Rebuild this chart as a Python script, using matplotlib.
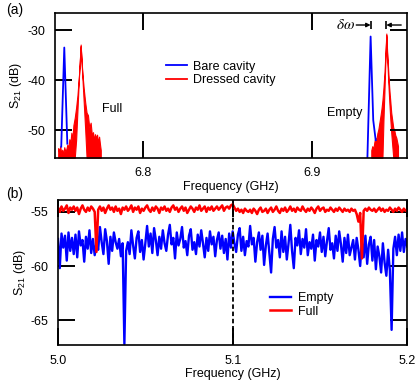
import numpy as np
import matplotlib
matplotlib.use('Agg')
import matplotlib.pyplot as plt

plt.rcParams['font.family'] = ['Liberation Sans', 'DejaVu Sans']
plt.rcParams['font.size'] = 9
plt.rcParams['mathtext.fontset'] = 'custom'
plt.rcParams['mathtext.rm'] = 'Liberation Sans'
plt.rcParams['mathtext.it'] = 'Liberation Sans:italic'
plt.rcParams['axes.unicode_minus'] = False

# ---- panel (a): transmission peaks (GHz, dB) ----
f_bare_full = [6.7518, 6.7536, 6.7554]
s_bare_full = [-53.3, -33.5, -52.7]

f_bare_empty = [6.9330, 6.9349, 6.93645, 6.9379]
s_bare_empty = [-55.5, -31.3, -48.0, -52.0]

f_dress_full = [6.7500, 6.7506, 6.7512, 6.7518, 6.7524, 6.7530, 6.7536, 6.7542,
                6.7548, 6.7554, 6.7560, 6.7566, 6.7572, 6.7578, 6.7584, 6.7590,
                6.7598, 6.7606, 6.7614, 6.7622, 6.7628, 6.7633, 6.7638, 6.7644,
                6.7652, 6.7660, 6.7668, 6.7676, 6.7684, 6.7692, 6.7700, 6.7706,
                6.7712, 6.7718, 6.7724, 6.7730, 6.7736, 6.7742, 6.7748, 6.7752]
hi_dress_full = [-53.6, -54.4, -53.2, -54.6, -53.9, -54.8, -53.4, -54.2,
                 -53.8, -52.9, -53.6, -51.8, -52.6, -50.5, -51.9, -49.0,
                 -47.5, -45.5, -43.0, -39.5, -36.5, -32.9, -36.0, -39.0,
                 -42.0, -44.5, -46.5, -47.0, -49.5, -48.5, -51.2, -50.4,
                 -52.0, -50.8, -51.6, -50.9, -52.5, -51.3, -53.0, -54.0]
lo_dress_full = [-55.5, -55.5, -55.5, -55.5, -55.5, -55.5, -55.5, -55.5,
                 -55.5, -55.5, -55.5, -55.5, -55.5, -55.5, -55.5, -55.5,
                 -55.5, -52.0, -46.0, -40.0, -36.0, -33.2, -36.0, -40.0,
                 -45.0, -50.0, -55.5, -55.5, -55.5, -55.5, -55.5, -55.5,
                 -55.5, -55.5, -55.5, -55.5, -55.5, -55.5, -55.5, -55.5]

f_dress_empty = [6.9353, 6.9359, 6.9365, 6.9371, 6.9377, 6.9383, 6.9389, 6.9395,
                 6.9401, 6.9407, 6.9413, 6.9419, 6.9425, 6.9431, 6.9437, 6.9442,
                 6.9447, 6.9453, 6.9459, 6.9465, 6.9471, 6.9477, 6.9483, 6.9489,
                 6.9495, 6.9501, 6.9507, 6.9511]
hi_dress_empty = [-54.0, -53.2, -53.8, -52.4, -51.5, -52.0, -50.6, -49.8,
                  -48.5, -47.2, -45.8, -44.0, -41.5, -38.5, -34.5, -30.7,
                  -34.5, -38.0, -41.5, -44.0, -46.5, -48.0, -49.5, -50.0,
                  -51.0, -51.5, -52.5, -53.2]
lo_dress_empty = [-55.5, -55.5, -55.5, -55.5, -55.5, -55.5, -55.5, -55.5,
                  -55.5, -55.5, -55.5, -55.5, -48.0, -42.0, -35.5, -31.0,
                  -35.5, -40.0, -44.0, -47.5, -50.5, -53.0, -55.5, -55.5,
                  -55.5, -55.5, -55.5, -55.5]

# ---- panel (b): broadband scan, 1 MHz steps from 5.0 to 5.2 GHz ----
f_scan = np.linspace(5.0, 5.2, 201)
s_empty = [
    -57.5, -60.2, -57.0, -58.3, -57.2, -59.5, -56.9, -58.6, -57.4, -58.9,
    -57.1, -59.2, -56.8, -58.1, -57.6, -59.6, -57.3, -58.4, -56.7, -58.8,
    -57.5, -59.0, -57.9, -58.5, -56.4, -57.8, -58.9, -56.6, -57.7, -59.8,
    -57.3, -58.6, -56.9, -57.8, -58.4, -57.5, -59.1, -57.9, -67.2, -58.6,
    -57.8, -58.9, -56.7, -58.1, -59.3, -57.4, -56.8, -58.7, -57.6, -59.4,
    -57.9, -56.3, -58.2, -57.0, -58.8, -56.5, -57.6, -59.0, -57.3, -58.4,
    -56.7, -57.9, -58.6, -57.1, -56.2, -58.0, -57.4, -59.3, -56.9, -58.1,
    -57.5, -56.4, -58.3, -57.7, -59.0, -57.2, -56.6, -58.5, -57.8, -58.9,
    -57.1, -58.2, -56.7, -57.9, -59.2, -57.4, -58.6, -56.8, -58.0, -57.3,
    -59.1, -57.6, -56.9, -58.4, -57.2, -58.8, -57.5, -59.4, -57.0, -58.3,
    -56.8, -57.9, -58.7, -57.1, -56.5, -58.6, -57.3, -59.0, -57.7, -58.2,
    -56.3, -58.0, -57.4, -59.6, -57.8, -56.9, -58.5, -57.2, -59.9, -58.1,
    -57.0, -58.8, -60.6, -57.5, -56.4, -58.3, -57.6, -59.2, -56.8, -58.7,
    -57.3, -59.4, -57.9, -56.2, -58.6, -60.2, -57.4, -58.1, -56.7, -58.9,
    -57.5, -58.3, -56.6, -59.0, -57.8, -58.4, -57.1, -59.5, -57.6, -58.2,
    -56.9, -58.7, -57.3, -59.1, -57.7, -56.5, -58.5, -57.9, -59.3, -57.2,
    -58.6, -56.8, -58.0, -59.6, -57.4, -58.8, -57.1, -59.0, -58.3, -57.6,
    -59.4, -57.4, -58.5, -60.0, -57.6, -59.2, -57.2, -59.8, -58.0, -57.3,
    -59.5, -57.6, -60.3, -58.2, -59.1, -60.6, -57.9, -59.7, -60.9, -58.5,
    -60.4, -65.9, -58.4, -57.3, -59.0, -57.1, -58.6, -56.9, -58.7, -57.5,
    -58.2]
s_full = [
    -54.6, -55.0, -54.5, -54.9, -54.7, -54.4, -55.1, -54.6, -54.8, -54.5,
    -54.9, -54.6, -55.2, -54.7, -54.4, -54.8, -55.0, -54.6, -54.9, -54.5,
    -54.7, -55.0, -58.7, -54.8, -54.5, -54.9, -54.6, -55.1, -54.7, -54.4,
    -54.8, -54.6, -55.0, -54.5, -54.9, -54.7, -55.2, -54.6, -54.8, -54.5,
    -54.9, -54.7, -54.4, -55.0, -54.6, -54.8, -54.5, -55.1, -54.7, -54.9,
    -54.6, -54.4, -54.8, -55.0, -54.6, -54.9, -54.5, -54.7, -55.1, -54.6,
    -54.8, -54.5, -54.9, -54.7, -55.0, -54.6, -54.4, -54.8, -54.6, -55.0,
    -54.7, -54.5, -54.9, -54.6, -55.1, -54.8, -54.5, -54.7, -55.0, -54.6,
    -54.8, -54.4, -54.9, -54.7, -54.5, -55.0, -54.6, -54.8, -54.5, -54.9,
    -54.7, -54.5, -54.8, -54.6, -54.4, -54.9, -54.6, -54.5, -54.7, -54.4,
    -54.3, -54.6, -54.9, -54.7, -55.0, -54.8, -55.1, -54.7, -54.9, -55.0,
    -54.8, -55.1, -54.7, -54.9, -55.2, -54.8, -54.6, -55.0, -54.9, -54.7,
    -55.1, -54.8, -54.6, -55.0, -54.8, -54.5, -54.9, -55.1, -54.7, -54.9,
    -54.6, -55.0, -54.8, -54.5, -54.9, -54.7, -55.0, -54.6, -54.8, -54.9,
    -54.5, -54.8, -55.0, -54.7, -54.9, -54.6, -54.8, -55.1, -54.7, -54.5,
    -54.9, -54.7, -54.6, -55.0, -54.8, -54.9, -54.6, -54.8, -55.0, -54.7,
    -54.9, -54.6, -54.8, -55.0, -54.7, -54.9, -54.8, -55.0, -54.7, -54.9,
    -54.8, -55.2, -55.9, -55.1, -59.3, -54.9, -54.7, -54.9, -54.6, -54.8,
    -54.9, -54.7, -55.0, -54.8, -54.6, -54.9, -54.7, -55.0, -54.8, -54.9,
    -54.6, -54.8, -55.0, -54.7, -54.9, -54.6, -54.8, -55.0, -54.7, -54.9,
    -54.8]

blue = '#0000ff'
red = '#ff0000'


def style_axes(ax):
    for sp in ax.spines.values():
        sp.set_linewidth(1.2)
    ax.tick_params(direction='in', length=12.5, width=1.4, pad=7,
                   top=True, right=True, labelsize=9)
    ax.tick_params(axis='y', right=True)


fig = plt.figure(figsize=(4.15, 3.89), dpi=100)

# panel (a)
ax1 = fig.add_axes([0.1325, 0.5946, 0.8489, 0.3720])
ax1.fill_between(f_dress_full, lo_dress_full, hi_dress_full, color=red, lw=0.8)
ax1.fill_between(f_dress_empty, lo_dress_empty, hi_dress_empty, color=red, lw=0.8)
ax1.plot(f_bare_full, s_bare_full, color=blue, lw=1.3, label='Bare cavity')
ax1.plot(f_bare_empty, s_bare_empty, color=blue, lw=1.3)
ax1.plot([], [], color=red, lw=1.3, label='Dressed cavity')
ax1.set_xlim(6.7481, 6.9566)
ax1.set_ylim(-55.5, -26.6)
ax1.set_xticks([6.8, 6.9])
ax1.set_xticklabels(['6.8', '6.9'])
ax1.set_yticks([-30, -40, -50])
ax1.set_yticklabels(['-30', '-40', '-50'])
style_axes(ax1)
ax1.set_xlabel('Frequency (GHz)', labelpad=1)
ax1.set_ylabel('S$_{21}$ (dB)', labelpad=2)
ax1.legend(loc='center left', bbox_to_anchor=(0.315, 0.583), frameon=False,
           borderpad=0, borderaxespad=0, handlelength=1.7, handletextpad=0.5,
           labelspacing=0.1, fontsize=9)
ax1.text(6.7759, -45.8, 'Full', fontsize=9, va='center', ha='left')
ax1.text(6.9298, -46.6, 'Empty', fontsize=9, va='center', ha='right')

# delta omega marker between the two empty peaks
pk_b = f_bare_empty[int(np.argmax(s_bare_empty))]
pk_d = f_dress_empty[int(np.argmax(hi_dress_empty))]
ya = -29.0
ax1.annotate('', xy=(pk_b, ya), xytext=(pk_b - 0.0085, ya),
             arrowprops=dict(arrowstyle='-|>', color='k', lw=1.0,
                             mutation_scale=6, shrinkA=0, shrinkB=0))
ax1.annotate('', xy=(pk_d, ya), xytext=(pk_d + 0.0088, ya),
             arrowprops=dict(arrowstyle='-|>', color='k', lw=1.0,
                             mutation_scale=6, shrinkA=0, shrinkB=0))
ax1.plot([pk_b, pk_d], [ya, ya], ls='none', marker='|', color='k', ms=6, mew=1.2)
ax1.text(pk_b - 0.0091, ya, r'$\delta\omega$', fontsize=11, ha='right',
         va='center', math_fontfamily='stix')

# panel (b)
ax2 = fig.add_axes([0.1398, 0.1131, 0.8417, 0.3728])
ax2.plot(f_scan, s_empty, color=blue, lw=1.7, label='Empty')
ax2.plot(f_scan, s_full, color=red, lw=1.8, label='Full')
ax2.axvline(5.1, color='k', ls=(0, (2.5, 1.5)), lw=1.3)
ax2.set_xlim(5.0, 5.2)
ax2.set_ylim(-67.3, -53.9)
ax2.set_xticks([5.0, 5.1, 5.2])
ax2.set_xticklabels(['5.0', '5.1', '5.2'])
ax2.set_yticks([-55, -60, -65])
ax2.set_yticklabels(['-55', '-60', '-65'])
style_axes(ax2)
ax2.set_xlabel('Frequency (GHz)', labelpad=1)
ax2.set_ylabel('S$_{21}$ (dB)', labelpad=2)
ax2.legend(loc='center left', bbox_to_anchor=(0.607, 0.275), frameon=False,
           borderpad=0, borderaxespad=0, handlelength=1.7, handletextpad=0.5,
           labelspacing=0.1, fontsize=9)

fig.text(0.015, 0.974, '(a)', fontsize=10, va='center')
fig.text(0.015, 0.501, '(b)', fontsize=10, va='center')

fig.savefig('out.png', dpi=100)
